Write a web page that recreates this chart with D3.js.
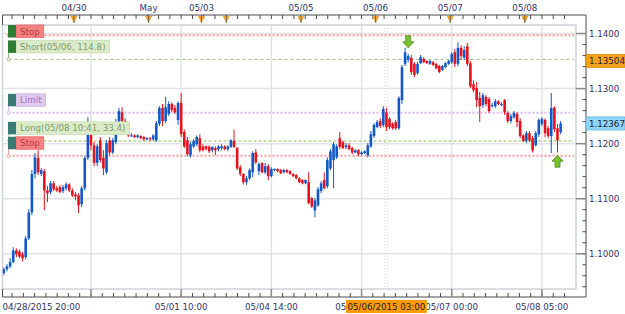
<!DOCTYPE html>
<html>
<head>
<meta charset="utf-8">
<script src="https://cdn.jsdelivr.net/npm/d3@7"></script>
<style>
  body { margin: 0; background: #fff; }
  svg text { font-family: "DejaVu Sans", sans-serif; font-size: 8.7px; }
</style>
</head>
<body>
<div id="chart"></div>
<script>
// hourly EUR/USD candles
const opens = [
  1.0965,1.0972,1.0977,1.0985,1.1006,1.1004,1.0999,1.0994,1.1028,1.1075,
  1.1145,1.1174,1.1145,1.1150,1.1115,1.1112,1.1128,1.1119,1.1121,1.1114,
  1.1119,1.1126,1.1115,1.1108,1.1106,1.1090,1.1119,1.1174,1.1219,1.1197,
  1.1165,1.1206,1.1174,1.1148,1.1206,1.1184,1.1203,1.1239,1.1257,1.1241,
  1.1223,1.1214,1.1215,1.1212,1.1214,1.1212,1.1208,1.1210,1.1208,1.1206,
  1.1236,1.1265,1.1241,1.1254,1.1272,1.1265,1.1243,1.1274,1.1221,1.1206,
  1.1179,1.1195,1.1199,1.1210,1.1195,1.1195,1.1194,1.1188,1.1192,1.1190,
  1.1192,1.1195,1.1190,1.1194,1.1205,1.1192,1.1157,1.1145,1.1130,1.1137,
  1.1148,1.1184,1.1150,1.1165,1.1148,1.1159,1.1141,1.1152,1.1154,1.1152,
  1.1148,1.1152,1.1150,1.1145,1.1143,1.1137,1.1134,1.1128,1.1130,1.1101,
  1.1079,1.1088,1.1114,1.1134,1.1123,1.1155,1.1170,1.1175,1.1210,1.1203,
  1.1194,1.1197,1.1192,1.1184,1.1188,1.1181,1.1183,1.1179,1.1195,1.1214,
  1.1230,1.1241,1.1234,1.1257,1.1245,1.1236,1.1239,1.1228,1.1279,1.1345,
  1.1352,1.1356,1.1345,1.1328,1.1346,1.1354,1.1350,1.1345,1.1348,1.1345,
  1.1341,1.1334,1.1339,1.1345,1.1348,1.1366,1.1345,1.1374,1.1356,1.1377,
  1.1346,1.1308,1.1301,1.1283,1.1270,1.1285,1.1281,1.1268,1.1268,1.1277,
  1.1270,1.1279,1.1256,1.1241,1.1248,1.1254,1.1241,1.1215,1.1205,1.1219,
  1.1210,1.1197,1.1217,1.1236,1.1243,1.1228,1.1214,1.1265,1.1228,1.1221
];
const highs = [
  1.0975,1.0981,1.0992,1.1012,1.1010,1.1008,1.1003,1.1032,1.1081,1.1152,
  1.1183,1.1188,1.1155,1.1154,1.1123,1.1132,1.1132,1.1123,1.1125,1.1125,
  1.1130,1.1128,1.1119,1.1112,1.1110,1.1123,1.1177,1.1248,1.1225,1.1203,
  1.1199,1.1212,1.1188,1.1206,1.1212,1.1210,1.1245,1.1265,1.1266,1.1246,
  1.1228,1.1219,1.1217,1.1217,1.1215,1.1214,1.1212,1.1212,1.1217,1.1241,
  1.1268,1.1272,1.1285,1.1277,1.1275,1.1270,1.1277,1.1292,1.1226,1.1212,
  1.1203,1.1208,1.1215,1.1217,1.1199,1.1197,1.1197,1.1195,1.1195,1.1197,
  1.1199,1.1197,1.1197,1.1208,1.1225,1.1194,1.1161,1.1146,1.1141,1.1155,
  1.1186,1.1190,1.1166,1.1166,1.1165,1.1163,1.1157,1.1155,1.1155,1.1154,
  1.1154,1.1154,1.1152,1.1146,1.1145,1.1139,1.1135,1.1135,1.1148,1.1103,
  1.1101,1.1121,1.1132,1.1148,1.1175,1.1190,1.1203,1.1199,1.1221,1.1206,
  1.1201,1.1201,1.1194,1.1190,1.1190,1.1186,1.1188,1.1201,1.1223,1.1237,
  1.1243,1.1246,1.1268,1.1265,1.1248,1.1239,1.1243,1.1286,1.1343,1.1374,
  1.1363,1.1361,1.1348,1.1348,1.1361,1.1357,1.1352,1.1352,1.1350,1.1346,
  1.1343,1.1343,1.1348,1.1352,1.1366,1.1372,1.1384,1.1379,1.1377,1.1383,
  1.1350,1.1315,1.1312,1.1294,1.1292,1.1288,1.1285,1.1274,1.1281,1.1279,
  1.1275,1.1281,1.1259,1.1254,1.1259,1.1257,1.1246,1.1217,1.1223,1.1223,
  1.1214,1.1223,1.1246,1.1248,1.1246,1.1232,1.1292,1.1268,1.1236,1.1241
];
const lows = [
  1.0961,1.0968,1.0974,1.0983,1.0994,1.0992,1.0986,1.0990,1.1025,1.1070,
  1.1137,1.1143,1.1141,1.1079,1.1094,1.1108,1.1114,1.1112,1.1110,1.1110,
  1.1115,1.1112,1.1103,1.1097,1.1074,1.1085,1.1115,1.1170,1.1188,1.1159,
  1.1159,1.1166,1.1143,1.1145,1.1179,1.1181,1.1199,1.1236,1.1236,1.1219,
  1.1212,1.1212,1.1210,1.1210,1.1208,1.1205,1.1206,1.1205,1.1205,1.1203,
  1.1232,1.1232,1.1237,1.1250,1.1257,1.1254,1.1234,1.1212,1.1192,1.1177,
  1.1175,1.1192,1.1195,1.1184,1.1186,1.1188,1.1183,1.1184,1.1179,1.1186,
  1.1188,1.1188,1.1186,1.1192,1.1192,1.1152,1.1141,1.1126,1.1125,1.1134,
  1.1139,1.1163,1.1143,1.1146,1.1145,1.1134,1.1139,1.1150,1.1148,1.1145,
  1.1146,1.1146,1.1143,1.1139,1.1135,1.1128,1.1126,1.1126,1.1090,1.1083,
  1.1066,1.1085,1.1110,1.1117,1.1119,1.1152,1.1119,1.1172,1.1190,1.1190,
  1.1190,1.1188,1.1181,1.1183,1.1177,1.1179,1.1181,1.1175,1.1192,1.1210,
  1.1228,1.1228,1.1230,1.1223,1.1226,1.1225,1.1225,1.1225,1.1272,1.1341,
  1.1348,1.1325,1.1321,1.1325,1.1345,1.1346,1.1345,1.1343,1.1341,1.1335,
  1.1328,1.1332,1.1337,1.1343,1.1345,1.1339,1.1341,1.1352,1.1352,1.1341,
  1.1301,1.1294,1.1266,1.1239,1.1265,1.1268,1.1256,1.1266,1.1265,1.1270,
  1.1268,1.1252,1.1237,1.1237,1.1245,1.1230,1.1210,1.1203,1.1201,1.1203,
  1.1184,1.1195,1.1212,1.1232,1.1212,1.1210,1.1183,1.1221,1.1184,1.1217
];
const closes = [
  1.0972,1.0977,1.0985,1.1006,1.0999,1.0995,1.0992,1.1028,1.1075,1.1145,
  1.1175,1.1148,1.1152,1.1115,1.1110,1.1128,1.1117,1.1115,1.1112,1.1121,
  1.1126,1.1115,1.1106,1.1104,1.1088,1.1119,1.1174,1.1225,1.1197,1.1165,
  1.1195,1.1170,1.1155,1.1201,1.1184,1.1206,1.1239,1.1259,1.1241,1.1225,
  1.1215,1.1215,1.1212,1.1215,1.1210,1.1208,1.1210,1.1208,1.1215,1.1237,
  1.1265,1.1241,1.1266,1.1272,1.1261,1.1257,1.1274,1.1217,1.1195,1.1181,
  1.1199,1.1205,1.1212,1.1188,1.1188,1.1190,1.1186,1.1194,1.1188,1.1195,
  1.1195,1.1190,1.1195,1.1206,1.1194,1.1155,1.1145,1.1130,1.1137,1.1152,
  1.1183,1.1166,1.1163,1.1148,1.1159,1.1141,1.1154,1.1154,1.1150,1.1146,
  1.1152,1.1148,1.1145,1.1141,1.1137,1.1130,1.1128,1.1134,1.1092,1.1086,
  1.1097,1.1117,1.1128,1.1119,1.1170,1.1186,1.1199,1.1195,1.1194,1.1192,
  1.1197,1.1190,1.1184,1.1188,1.1181,1.1184,1.1186,1.1197,1.1217,1.1234,
  1.1239,1.1232,1.1263,1.1230,1.1230,1.1228,1.1228,1.1283,1.1339,1.1366,
  1.1359,1.1330,1.1325,1.1345,1.1357,1.1348,1.1346,1.1350,1.1343,1.1337,
  1.1330,1.1341,1.1346,1.1350,1.1363,1.1345,1.1374,1.1359,1.1370,1.1345,
  1.1304,1.1297,1.1279,1.1268,1.1288,1.1272,1.1259,1.1270,1.1277,1.1272,
  1.1272,1.1257,1.1241,1.1250,1.1256,1.1239,1.1214,1.1205,1.1219,1.1206,
  1.1188,1.1219,1.1243,1.1245,1.1219,1.1214,1.1265,1.1226,1.1206,1.12367
];

// axis labels (bar index -> text)
const bottomIdx = [28, 57, 86, 115, 144, 173];
const bottomLabels = ["", "05/01 10:00", "05/04 14:00", "05/05 19:00", "05/07 00:00", "05/08 05:00"];
const firstLabel = "04/28/2015 20:00";
const dayIdx = [23, 47, 64, 72, 96, 120, 144, 168];
const dayLabels = ["04/30", "May", "05/03", "", "05/05", "05/06", "05/07", "05/08"];
const priceTicks = [1.10, 1.11, 1.12, 1.13, 1.14];

// order levels
const levelNames = ["Stop", "Short(05/06, 114.8)", "Limit", "Long(05/08 10:41, 33.4)", "Stop"];
const levelPrices = [1.1397, 1.1353, 1.1256, 1.1205, 1.1178];
const levelKinds = ["stop", "short", "limit", "long", "stop"];
const levelTrade = ["short", "short", "long", "long", "long"];

// price boxes on the right axis
const boxPrices = [1.13504, 1.12367];
const boxKinds = ["order", "last"];

// trade arrows, crosshair
const arrowIdx = [130, 178];
const arrowPrices = [1.1374, 1.1179];
const arrowDirs = ["down", "up"];
const crossIdx = 123;
const crossLabel = "05/06/2015 03:00";

const W = 625, H = 314;
const plot = { l: 2.5, r: 576, t: 25, b: 289 };
const axisR = 586, axisT = 15, axisB = 297;
const ink = "#33336b";

const svg = d3.select("#chart").append("svg")
  .attr("width", W).attr("height", H);

const x = d3.scaleLinear().domain([0, closes.length - 1]).range([3.9, 560.6]);
const y = d3.scaleLinear().domain([1.0936, 1.14155]).range([plot.b, plot.t]);

const defs = svg.append("defs");
defs.append("clipPath").attr("id", "clip")
  .append("rect")
  .attr("x", plot.l).attr("y", plot.t)
  .attr("width", plot.r - plot.l).attr("height", plot.b - plot.t);

// grid
svg.append("g").selectAll("line")
  .data(priceTicks).enter().append("line")
  .attr("x1", plot.l).attr("x2", plot.r)
  .attr("y1", d => y(d)).attr("y2", d => y(d))
  .attr("stroke", "#e3e3e3").attr("stroke-width", 1.5);
svg.append("g").selectAll("line")
  .data(bottomIdx).enter().append("line")
  .attr("x1", d => x(d)).attr("x2", d => x(d))
  .attr("y1", plot.t).attr("y2", plot.b)
  .attr("stroke", "#e3e3e3").attr("stroke-width", 1.5);

// crosshair
[-1.5, 1.5].forEach(off => {
  svg.append("line")
    .attr("x1", x(crossIdx) + off).attr("x2", x(crossIdx) + off)
    .attr("y1", plot.t).attr("y2", plot.b)
    .attr("stroke", "#d4d4d4").attr("stroke-dasharray", "1,2");
});

// plot frame
svg.append("rect")
  .attr("x", plot.l).attr("y", plot.t)
  .attr("width", plot.r - plot.l).attr("height", plot.b - plot.t)
  .attr("fill", "none").attr("stroke", "#cdd3dd").attr("stroke-width", 1.5);

// level lines
const lineStyle = {
  stop:  { c: "#f79b9b", dash: "2,2", w: 2 },
  short: { c: "#93c27a", dash: "3,3", w: 1 },
  limit: { c: "#dcbaf2", dash: "2,2", w: 2 },
  long:  { c: "#c3e0a8", dash: "3,2", w: 2 }
};
const levels = levelPrices.map((p, i) => ({ p, name: levelNames[i], kind: levelKinds[i], trade: levelTrade[i] }));
const lv = svg.append("g");
lv.selectAll("line.level").data(levels).enter().append("line")
  .attr("class", "level")
  .attr("x1", 8.5).attr("x2", 574)
  .attr("y1", d => y(d.p)).attr("y2", d => y(d.p))
  .attr("stroke", d => lineStyle[d.kind].c)
  .attr("stroke-width", d => lineStyle[d.kind].w)
  .attr("stroke-dasharray", d => lineStyle[d.kind].dash);

// candles
const bars = closes.map((c, i) => ({ i, o: opens[i], h: highs[i], l: lows[i], c }));
const up = "#1158c8", down = "#e3121c";
const cg = svg.append("g").attr("clip-path", "url(#clip)");
cg.selectAll("line.wick").data(bars).enter().append("line")
  .attr("class", "wick")
  .attr("x1", d => x(d.i)).attr("x2", d => x(d.i))
  .attr("y1", d => y(d.h)).attr("y2", d => y(d.l))
  .attr("stroke", d => d.c >= d.o ? up : down)
  .attr("stroke-width", 1);
cg.selectAll("rect.body").data(bars).enter().append("rect")
  .attr("class", "body")
  .attr("x", d => x(d.i) - 1.3)
  .attr("width", 2.6)
  .attr("y", d => y(Math.max(d.o, d.c)))
  .attr("height", d => Math.max(1, Math.abs(y(d.o) - y(d.c))))
  .attr("fill", d => d.c >= d.o ? up : down);

// level labels on the left
const sqColor = { short: "#2f7d34", long: "#3a7b73" };
const boxStyle = {
  stop:  { f: "#f58282", s: "#ec6a6a", t: "#b43a3a" },
  short: { f: "#dbebca", s: "#c8dfb2", t: "#7d9b6c" },
  limit: { f: "#e0c9ef", s: "#d2b4e6", t: "#9c72bb" },
  long:  { f: "#dbebca", s: "#c8dfb2", t: "#7d9b6c" }
};
levels.forEach(d => {
  const ly = y(d.p);
  const top = Math.max(plot.t, ly - 19);
  const g = svg.append("g");
  g.append("line")
    .attr("x1", 8.5).attr("x2", 8.5)
    .attr("y1", top + 12).attr("y2", ly)
    .attr("stroke", lineStyle[d.kind].c);
  g.append("circle")
    .attr("cx", 8.5).attr("cy", ly).attr("r", 1.6)
    .attr("fill", "#fff").attr("stroke", lineStyle[d.kind].c);
  const box = g.append("rect")
    .attr("x", 16).attr("y", top).attr("height", 12.5)
    .attr("fill", boxStyle[d.kind].f).attr("stroke", boxStyle[d.kind].s)
    .attr("stroke-width", 0.8);
  const t = g.append("text")
    .attr("x", 20).attr("y", top + 9.5)
    .attr("fill", boxStyle[d.kind].t)
    .text(d.name);
  box.attr("width", t.node().getComputedTextLength() + 8);
  g.append("rect")
    .attr("x", 8).attr("y", top).attr("width", 8).attr("height", 12.5)
    .attr("fill", sqColor[d.trade]);
});

// trade arrows
arrowIdx.forEach((ai, k) => {
  const cx = x(ai), tip = y(arrowPrices[k]);
  const s = arrowDirs[k] === "down" ? 1 : -1;
  const pts = [
    [cx, tip], [cx + 5.5, tip - s * 6], [cx + 2.5, tip - s * 6], [cx + 2.5, tip - s * 12],
    [cx - 2.5, tip - s * 12], [cx - 2.5, tip - s * 6], [cx - 5.5, tip - s * 6]
  ];
  svg.append("path")
    .attr("d", d3.line()(pts) + "Z")
    .attr("fill", "#78c02e").attr("stroke", "#4b8e14").attr("stroke-width", 0.8);
});

// top axis
const minorIdx = d3.range(-1, 181, 29 / 8);
const ta = svg.append("g");
ta.append("line").attr("x1", plot.l).attr("x2", axisR)
  .attr("y1", axisT).attr("y2", axisT).attr("stroke", "#4a4a4a");
ta.selectAll("line.tk").data(minorIdx.filter(d => x(d) > plot.l && x(d) < plot.r)).enter().append("line")
  .attr("class", "tk")
  .attr("x1", d => x(d)).attr("x2", d => x(d))
  .attr("y1", axisT).attr("y2", axisT + 4)
  .attr("stroke", "#4a4a4a");
ta.append("line").attr("x1", plot.l).attr("x2", plot.l)
  .attr("y1", axisT).attr("y2", plot.t).attr("stroke", "#4a4a4a");
dayIdx.forEach((di, k) => {
  const cx = x(di) - 1.5;
  ta.append("path")
    .attr("d", `M${cx - 3.5},${axisT + 1}L${cx + 3.5},${axisT + 1}L${cx},${axisT + 8}Z`)
    .attr("fill", "#f6a326");
  ta.append("line").attr("x1", cx).attr("x2", cx)
    .attr("y1", axisT).attr("y2", axisT + 8).attr("stroke", "#555").attr("stroke-width", 0.8);
  if (dayLabels[k]) {
    ta.append("text")
      .attr("x", cx).attr("y", 11)
      .attr("text-anchor", "middle").attr("fill", ink)
      .text(dayLabels[k]);
  }
});

// right axis
const ra = svg.append("g");
ra.append("line").attr("x1", axisR).attr("x2", axisR)
  .attr("y1", axisT).attr("y2", axisB).attr("stroke", "#4a4a4a");
ra.selectAll("line.minor").data(d3.range(1.094, 1.1415, 0.002)).enter().append("line")
  .attr("class", "minor")
  .attr("x1", axisR - 3.5).attr("x2", axisR)
  .attr("y1", d => y(d)).attr("y2", d => y(d))
  .attr("stroke", "#4a4a4a");
ra.selectAll("line.major").data(priceTicks).enter().append("line")
  .attr("class", "major")
  .attr("x1", plot.r).attr("x2", axisR)
  .attr("y1", d => y(d)).attr("y2", d => y(d))
  .attr("stroke", "#8a8a8a").attr("stroke-width", 1.5);
ra.selectAll("text").data(priceTicks).enter().append("text")
  .attr("x", 589).attr("y", d => y(d) + 3.2)
  .attr("fill", ink)
  .text(d => d3.format(".4f")(d));

const boxFill = { order: "#f7a31e", last: "#8ed5f6" };
const boxStroke = { order: "#d98a00", last: "#5fb4da" };
boxPrices.forEach((p, k) => {
  ra.append("rect")
    .attr("x", axisR).attr("y", y(p) - 6.5)
    .attr("width", W - axisR).attr("height", 13)
    .attr("fill", boxFill[boxKinds[k]]).attr("stroke", boxStroke[boxKinds[k]]).attr("stroke-width", 0.8);
  ra.append("text")
    .attr("x", 589).attr("y", y(p) + 3.2)
    .attr("fill", "#1c1c44")
    .text(d3.format(".5f")(p));
});

// bottom axis
const ba = svg.append("g");
ba.append("line").attr("x1", plot.l).attr("x2", axisR)
  .attr("y1", axisB).attr("y2", axisB).attr("stroke", "#4a4a4a");
ba.selectAll("line.minor").data(minorIdx.filter(d => x(d) > plot.l && x(d) < axisR)).enter().append("line")
  .attr("class", "minor")
  .attr("x1", d => x(d)).attr("x2", d => x(d))
  .attr("y1", axisB - 4).attr("y2", axisB)
  .attr("stroke", "#4a4a4a");
ba.selectAll("line.major").data(bottomIdx).enter().append("line")
  .attr("class", "major")
  .attr("x1", d => x(d)).attr("x2", d => x(d))
  .attr("y1", plot.b).attr("y2", axisB)
  .attr("stroke", "#8a8a8a").attr("stroke-width", 1.5);
ba.append("line").attr("x1", plot.l).attr("x2", plot.l)
  .attr("y1", plot.b).attr("y2", axisB).attr("stroke", "#4a4a4a");
ba.append("text")
  .attr("x", plot.l).attr("y", 309.5)
  .attr("fill", ink).text(firstLabel);

// highlighted crosshair time: measure first, labels under it are cut at its edges
const ct = svg.append("text")
  .attr("x", x(crossIdx)).attr("y", 309.5)
  .attr("text-anchor", "middle").attr("fill", "#1c1c44")
  .text(crossLabel);
const cw = ct.node().getComputedTextLength();
const hx0 = x(crossIdx) - cw / 2 - 1.5, hx1 = x(crossIdx) + cw / 2 + 1.5;
const outside = defs.append("clipPath").attr("id", "outsideHl");
outside.append("rect").attr("x", 0).attr("y", 290).attr("width", hx0).attr("height", H - 290);
outside.append("rect").attr("x", hx1).attr("y", 290).attr("width", W - hx1).attr("height", H - 290);

ba.selectAll("text.lbl").data(bottomIdx).enter().append("text")
  .attr("class", "lbl")
  .attr("x", d => x(d)).attr("y", 309.5)
  .attr("text-anchor", "middle").attr("fill", ink)
  .attr("clip-path", "url(#outsideHl)")
  .text((d, i) => bottomLabels[i]);

svg.insert("rect", () => ct.node())
  .attr("x", hx0).attr("y", 300)
  .attr("width", hx1 - hx0).attr("height", 13)
  .attr("fill", "#ff9b00");
svg.node().appendChild(ct.node());
</script>
</body>
</html>
